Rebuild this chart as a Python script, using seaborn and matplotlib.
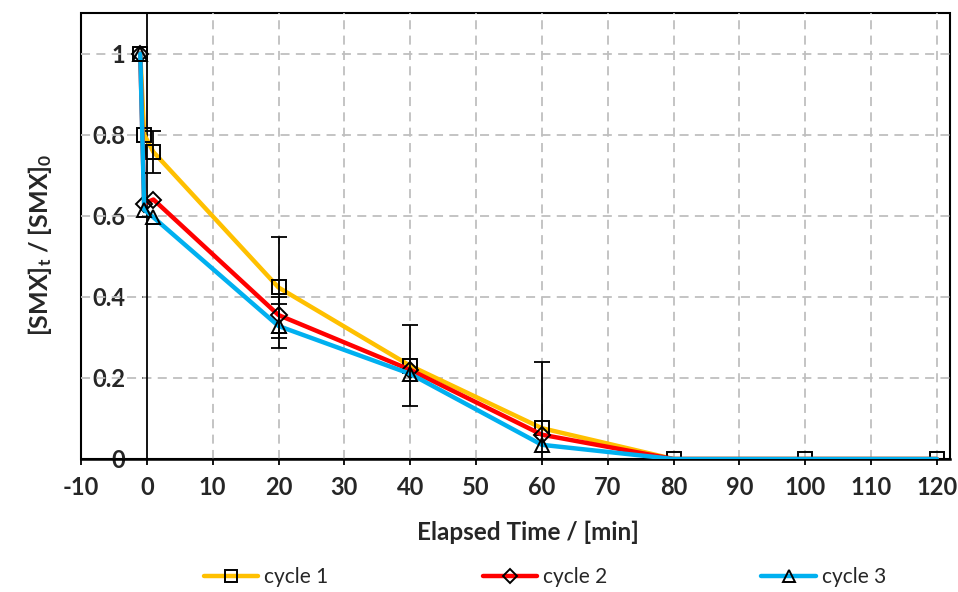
import numpy as np
import pandas as pd
import matplotlib
matplotlib.use("Agg")
import matplotlib.pyplot as plt
from matplotlib.lines import Line2D
import seaborn as sns

# ---- data ----
time = [-1, -0.4, 1, 20, 40, 60, 80, 100, 120]
cycle1 = [1.0, 0.80, 0.757, 0.423, 0.230, 0.076, 0.0, 0.0, 0.0]
cycle2 = [1.0, 0.630, 0.640, 0.355, 0.220, 0.060, 0.0, 0.0, 0.0]
cycle3 = [1.0, 0.615, 0.596, 0.328, 0.210, 0.035, 0.0, 0.0, 0.0]
err1 = [0.0, 0.0, 0.052, 0.125, 0.10, 0.164, 0.0, 0.0, 0.0]
err2 = [0.0, 0.0, 0.0, 0.045, 0.0, 0.0, 0.0, 0.0, 0.0]
err3 = [0.0, 0.0, 0.0, 0.055, 0.0, 0.0, 0.0, 0.0, 0.0]
labels = ["cycle 1", "cycle 2", "cycle 3"]
colors = ["#FFC000", "#FF0000", "#00B0F0"]
markers = ["s", "D", "^"]
x_ticks = list(range(-10, 121, 10))
y_ticks = [0, 0.2, 0.4, 0.6, 0.8, 1.0]
y_tick_labels = ["0", "0.2", "0.4", "0.6", "0.8", "1"]

sns.set_theme(style="white")
plt.rcParams["font.family"] = ["Lato", "DejaVu Sans"]
plt.rcParams["mathtext.fontset"] = "custom"
plt.rcParams["mathtext.rm"] = "Lato:bold"
plt.rcParams["mathtext.bf"] = "Lato:bold"
plt.rcParams["mathtext.it"] = "Lato:bold"

fig = plt.figure(figsize=(9.58, 5.92), dpi=100)
ax = fig.add_axes([81 / 958, 1 - 459 / 592, (950 - 81) / 958, (459 - 13) / 592])

df = pd.DataFrame({"time": time * 3,
                   "value": cycle1 + cycle2 + cycle3,
                   "series": [labels[0]] * len(time) + [labels[1]] * len(time) + [labels[2]] * len(time)})

ms = [10, 8, 10]
markevery_list = [None, [0, 1, 2, 3, 4, 5], [0, 1, 2, 3, 4, 5]]
for i, lab in enumerate(labels):
    sub = df[df["series"] == lab]
    sns.lineplot(data=sub, x="time", y="value", ax=ax, color=colors[i], lw=3.2,
                 marker=markers[i], markersize=ms[i], markerfacecolor="none",
                 markeredgecolor="black", markeredgewidth=1.4,
                 markevery=markevery_list[i], zorder=3 + i, legend=False,
                 estimator=None, sort=False)

for vals, errs in [(cycle1, err1), (cycle2, err2), (cycle3, err3)]:
    t = [tt for tt, e in zip(time, errs) if e > 0]
    v = [vv for vv, e in zip(vals, errs) if e > 0]
    e = [ee for ee in errs if ee > 0]
    ax.errorbar(t, v, yerr=e, fmt="none", ecolor="black", elinewidth=1.3,
                capsize=6, capthick=1.3, zorder=7)

ax.set_xlim(-10, 122)
ax.set_ylim(0, 1.1)
ax.set_xticks(x_ticks)
ax.set_xticklabels([str(v) for v in x_ticks])
ax.set_yticks(y_ticks)
ax.set_yticklabels(y_tick_labels)

# grid
for xv in x_ticks:
    if xv not in (-10, 0):
        ax.axvline(xv, color="#BFBFBF", lw=1.3, ls=(0, (5, 3.5)), zorder=1)
for yv in y_ticks[1:]:
    ax.axhline(yv, color="#BFBFBF", lw=1.3, ls=(0, (5, 3.5)), zorder=1)

# spines
for s in ["top", "right"]:
    ax.spines[s].set_visible(False)
ax.spines["left"].set_position(("data", 0))
ax.spines["left"].set_color("black")
ax.spines["left"].set_linewidth(1.3)
ax.spines["bottom"].set_color("black")
ax.spines["bottom"].set_linewidth(1.8)
ax.spines["left"].set_zorder(2)
ax.patch.set_edgecolor("black")
ax.patch.set_linewidth(1.5)

ax.tick_params(axis="x", direction="out", length=4.5, width=1.3, color="black",
               bottom=True, labelsize=17, pad=8)
ax.tick_params(axis="y", direction="out", length=3.5, width=1.3, color="black",
               left=True, labelsize=17, pad=12)
for lbl in ax.get_xticklabels() + ax.get_yticklabels():
    lbl.set_fontweight("bold")

ax.set_xlabel("")
ax.set_ylabel("")
fig.text(528 / 958, 1 - 532 / 592, "Elapsed Time / [min]", ha="center", va="center",
         fontsize=17.5, fontweight="bold")
fig.text(40 / 958, 1 - 245 / 592, r"[SMX]$_{\mathbf{t}}$ / [SMX]$_{\mathbf{0}}$",
         rotation=90, ha="center", va="center", fontsize=18, fontweight="bold")

handles = [Line2D([0], [0], color=colors[i], lw=3.2, marker=markers[i], markersize=ms[i] - 1,
                  markerfacecolor="none", markeredgecolor="black", markeredgewidth=1.4)
           for i in range(3)]
fig.legend(handles, labels, loc="center", bbox_to_anchor=(545 / 958, 1 - 577 / 592),
           ncol=3, frameon=False, fontsize=15, handlelength=2.6, handletextpad=0.3,
           columnspacing=7.4, borderaxespad=0)

fig.savefig("out.png", dpi=100)
